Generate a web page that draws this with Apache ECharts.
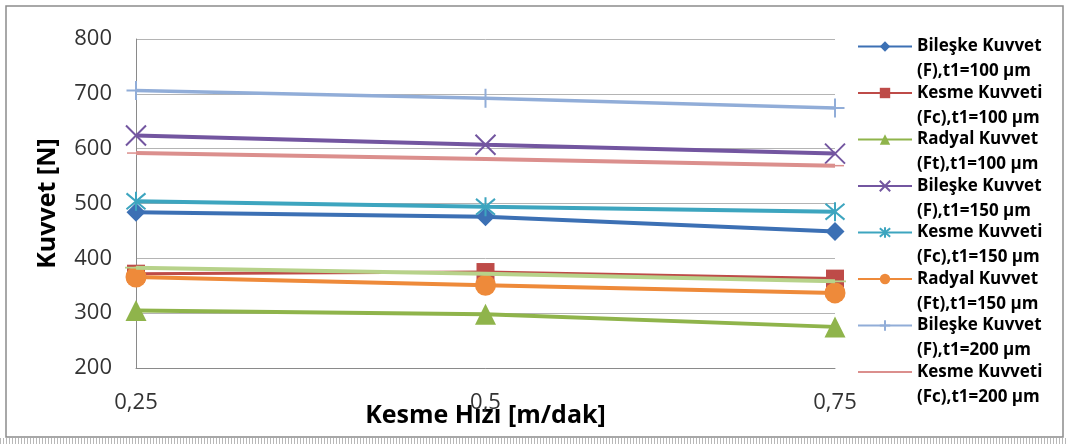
<!DOCTYPE html>
<html>
<head>
<meta charset="utf-8">
<title>Kuvvet - Kesme Hızı</title>
<script src="https://cdn.jsdelivr.net/npm/echarts@6/dist/echarts.min.js"></script>
<style>
  html, body { margin: 0; padding: 0; background: #ffffff; }
  #chart { width: 1067px; height: 444px; }
</style>
</head>
<body>
<div id="chart"></div>
<script>
// Cutting speed categories (m/dak)
const categories = ['0,25', '0,5', '0,75'];

// Force values [N] for each tool condition
const bileskeF100 = [484, 476, 449];
const kesmeFc100  = [372, 375, 363];
const radyalFt100 = [305, 298, 275];
const bileskeF150 = [624, 607, 591];
const kesmeFc150  = [504, 494, 485];
const radyalFt150 = [366, 351, 337];
const bileskeF200 = [706, 692, 674];
const kesmeFc200  = [592, 581, 569];
const radyalFt200 = [383, 372, 358];

// Series names (two-line legend labels)
const seriesNames = [
  'Bileşke Kuvvet\n(F),t1=100 µm',
  'Kesme Kuvveti\n(Fc),t1=100 µm',
  'Radyal Kuvvet\n(Ft),t1=100 µm',
  'Bileşke Kuvvet\n(F),t1=150 µm',
  'Kesme Kuvveti\n(Fc),t1=150 µm',
  'Radyal Kuvvet\n(Ft),t1=150 µm',
  'Bileşke Kuvvet\n(F),t1=200 µm',
  'Kesme Kuvveti\n(Fc),t1=200 µm',
  'Radyal Kuvvet\n(Ft),t1=200 µm'
];
const seriesValues = [
  bileskeF100, kesmeFc100, radyalFt100,
  bileskeF150, kesmeFc150, radyalFt150,
  bileskeF200, kesmeFc200, radyalFt200
];

// Styling per series
const colors = ['#3C70B4', '#BE4B48', '#8FB44B', '#7356A0', '#3DA5BF', '#EE8A3A', '#91ADD8', '#DB8F8D', '#B7D28A'];
const xPath = 'path://M0,0L10,10M10,0L0,10';
const starPath = 'path://M0,0L10,10M10,0L0,10M5,-1L5,11';
const plusPath = 'path://M0,5L10,5M5,0L5,10';
const dashPath = 'path://M0,0L20,0L20,6L0,6Z';
const symbols = ['diamond', 'rect', 'triangle', xPath, starPath, 'circle', plusPath, dashPath, dashPath];
const symbolSizes = [19, 18, 21, 20, 19, 21, 19, [18, 5], [22, 6]];
const lineWidths = [4, 3, 4, 4, 4, 4, 3.5, 4, 4];
const strokedSymbols = [false, false, false, true, true, false, true, false, false];

const FONT = 'Open Sans';

const series = seriesValues.map(function (vals, i) {
  return {
    name: seriesNames[i],
    type: 'line',
    data: vals,
    symbol: symbols[i],
    symbolSize: symbolSizes[i],
    symbolKeepAspect: i >= 7,
    showAllSymbol: true,
    lineStyle: { width: lineWidths[i], color: colors[i] },
    itemStyle: strokedSymbols[i]
      ? { color: colors[i], borderColor: colors[i], borderWidth: 2 }
      : { color: colors[i], borderWidth: 0 },
    emphasis: { disabled: true },
    animation: false,
    z: 2 + i
  };
});

// Legend entries: the dash-marker series shows only its line
const legendData = seriesNames.slice(0, 8).map(function (name, i) {
  return symbols[i] === dashPath ? { name: name, itemStyle: { opacity: 0 } } : { name: name };
});

const chart = echarts.init(document.getElementById('chart'), null, { renderer: 'canvas' });
chart.setOption({
  backgroundColor: '#ffffff',
  animation: false,
  color: colors,
  grid: { left: 136, right: 232, top: 39, bottom: 76, containLabel: false },
  xAxis: {
    type: 'category',
    data: categories,
    boundaryGap: false,
    name: 'Kesme Hızı [m/dak]',
    nameLocation: 'middle',
    nameGap: 35,
    nameMoveOverlap: false,
    nameTextStyle: { fontFamily: FONT, fontWeight: 'bold', fontSize: 25, color: '#000000' },
    axisLine: { show: true, lineStyle: { color: '#8a8a8a', width: 1 } },
    axisTick: { show: false },
    axisLabel: { fontFamily: FONT, fontSize: 22, color: '#333333', margin: 24, interval: 0 },
    splitLine: { show: false }
  },
  yAxis: {
    type: 'value',
    min: 200,
    max: 800,
    interval: 100,
    name: 'Kuvvet [N]',
    nameLocation: 'middle',
    nameGap: 76,
    nameTextStyle: { fontFamily: FONT, fontWeight: 'bold', fontSize: 25, color: '#000000' },
    axisLine: { show: true, lineStyle: { color: '#8a8a8a', width: 1 } },
    axisTick: { show: false },
    axisLabel: { fontFamily: FONT, fontSize: 22, color: '#333333', margin: 24 },
    splitLine: { show: true, lineStyle: { color: '#b4b4b4', width: 1 } }
  },
  legend: {
    orient: 'vertical',
    left: 857,
    top: 9,
    padding: 0,
    itemWidth: 54,
    itemHeight: 13,
    itemGap: -28.5,
    selectedMode: false,
    data: legendData,
    formatter: function (name) { return '\n' + name; },
    textStyle: { fontFamily: FONT, fontWeight: 'bold', fontSize: 17, color: '#000000', lineHeight: 25 }
  },
  graphic: [
    {
      type: 'rect',
      shape: { x: 6, y: 6, width: 1057, height: 431 },
      style: { fill: null, stroke: '#8c8c8c', lineWidth: 1.5 },
      silent: true
    },
    {
      type: 'line',
      shape: { x1: 0, y1: 441, x2: 1067, y2: 441 },
      style: { stroke: '#b8b8b8', lineWidth: 6, lineDash: [1, 2] },
      silent: true
    }
  ],
  series: series
});
</script>
</body>
</html>
